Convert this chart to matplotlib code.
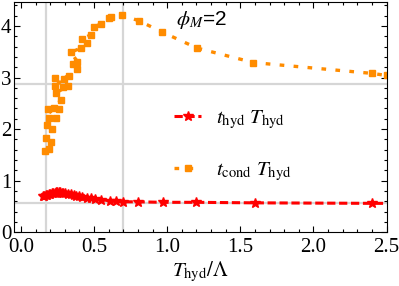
import numpy as np
import matplotlib
matplotlib.use("Agg")
import matplotlib.pyplot as plt
from matplotlib.ticker import MultipleLocator

plt.rcParams['font.family'] = ['Liberation Serif', 'DejaVu Serif']
plt.rcParams['mathtext.fontset'] = 'stix'

# t_cond * T_hyd  (orange, dotted, squares)
t_cond_T = [0.164, 0.193, 0.205, 0.171, 0.21, 0.178, 0.193, 0.239, 0.187, 0.262,
            0.228, 0.273, 0.239, 0.323, 0.285, 0.234, 0.296, 0.232, 0.33, 0.382,
            0.353, 0.387, 0.34, 0.41, 0.455, 0.421, 0.478, 0.50, 0.546, 0.603,
            0.614, 0.694, 0.807, 0.967, 1.205, 1.59, 2.40, 2.50]
t_cond_v = [1.57, 1.62, 1.75, 1.83, 2.00, 2.07, 2.22, 2.22, 2.38, 2.39,
            2.41, 2.57, 2.70, 2.84, 2.82, 2.84, 2.97, 2.99, 3.02, 3.17,
            3.27, 3.31, 3.49, 3.57, 3.67, 3.75, 3.83, 3.98, 4.04, 4.15,
            4.18, 4.21, 4.10, 3.88, 3.57, 3.29, 3.08, 3.04]

# t_hyd * T_hyd  (red, dashed, stars)
t_hyd_T = [0.15, 0.16, 0.17, 0.18, 0.19, 0.20, 0.21, 0.22, 0.23, 0.24,
           0.25, 0.26, 0.27, 0.28, 0.29, 0.30, 0.32, 0.34, 0.36, 0.38,
           0.40, 0.42, 0.45, 0.48, 0.51, 0.55, 0.61, 0.65, 0.70, 0.80,
           0.97, 1.20, 1.60, 2.40, 2.50]
t_hyd_v = [0.70, 0.71, 0.72, 0.73, 0.74, 0.75, 0.76, 0.76, 0.77, 0.78,
           0.78, 0.78, 0.78, 0.77, 0.77, 0.76, 0.75, 0.74, 0.72, 0.71,
           0.70, 0.69, 0.67, 0.66, 0.65, 0.63, 0.61, 0.60, 0.59, 0.59,
           0.58, 0.58, 0.57, 0.56, 0.56]

grid_x = [0.171, 0.698]
grid_y = [0.56, 2.876]

orange = '#ff8c00'
red = '#ff0000'

fig = plt.figure(figsize=(3.99, 2.86), dpi=100)
ax = fig.add_axes([0.034, 0.188, 0.935, 0.806])

for gx in grid_x:
    ax.axvline(gx, color='#d6d6d6', lw=1.6, zorder=0)
for gy in grid_y:
    ax.axhline(gy, color='#d6d6d6', lw=1.6, zorder=0)

ax.plot(t_hyd_T, t_hyd_v, color=red, lw=2.2, ls=(0, (2.7, 1.2)),
        marker='*', ms=7.5, markevery=list(range(len(t_hyd_T) - 1)),
        label=r'$t_\mathrm{hyd}\ T_\mathrm{hyd}$', zorder=3)
ax.plot(t_cond_T, t_cond_v, color=orange, lw=2.4, ls=(0, (1.4, 2.8)),
        marker='s', ms=4, label=r'$t_\mathrm{cond}\ T_\mathrm{hyd}$', zorder=2)

ax.set_xlim(-0.05, 2.5)
ax.set_ylim(0, 4.47)
ax.xaxis.set_major_locator(MultipleLocator(0.5))
ax.xaxis.set_minor_locator(MultipleLocator(0.1))
ax.yaxis.set_major_locator(MultipleLocator(1))
ax.yaxis.set_minor_locator(MultipleLocator(0.2))
ax.xaxis.set_major_formatter(matplotlib.ticker.FormatStrFormatter('%.1f'))
ax.tick_params(which='both', direction='in', top=True, right=True,
               labelsize=15, width=0.8)
ax.tick_params(which='major', length=4.5)
ax.tick_params(axis='x', which='major', pad=4.5)
ax.tick_params(axis='y', which='major', pad=1.5)
ax.tick_params(which='minor', length=2.5)
for s in ax.spines.values():
    s.set_linewidth(0.8)

ax.set_xlabel(r'$T_\mathrm{hyd}/\Lambda$', fontsize=15, labelpad=2)

ax.text(0.435, 0.9, r'$\phi_M$=2', transform=ax.transAxes, fontsize=15,
        family=['Liberation Sans', 'DejaVu Sans'])

ax.legend(loc='center left', bbox_to_anchor=(0.43, 0.374), frameon=False,
          fontsize=15, borderpad=0, borderaxespad=0, handlelength=1.3,
          handletextpad=0.7, labelspacing=1.45, numpoints=1)

fig.savefig('out.png', dpi=100)
